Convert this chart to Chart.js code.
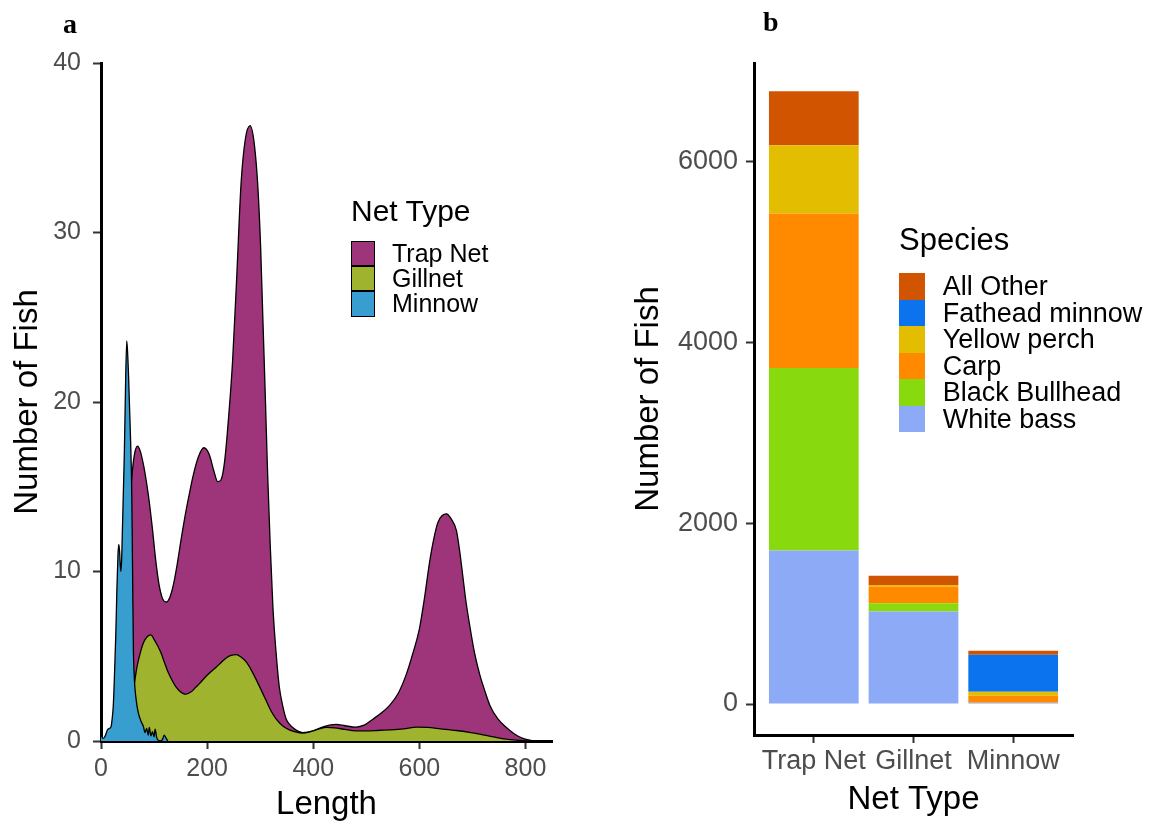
<!DOCTYPE html>
<html>
<head>
<meta charset="utf-8">
<script src="https://cdn.jsdelivr.net/npm/chart.js@4.4.0/dist/chart.umd.min.js"></script>
<style>
  body { margin: 0; background: #fff; font-family: 'Liberation Sans', Arial, sans-serif; }
  #page { position: relative; width: 1152px; height: 835px; overflow: hidden; }
  canvas { position: absolute; top: 0; }
  .tag { position: absolute; font: bold 28px 'Liberation Serif', 'Times New Roman', serif; line-height: 28px; color: #000; }
  .abs { position: absolute; white-space: nowrap; color: #000; }
  .key { position: absolute; box-sizing: border-box; }
</style>
</head>
<body>
<div id="page">
  <canvas id="lengthChart" width="580" height="835" style="left:0;width:580px;height:835px"></canvas>
  <canvas id="netChart" width="572" height="835" style="left:580px;width:572px;height:835px"></canvas>
  <div class="tag" style="left:63px;top:10px">a</div>
  <div class="tag" style="left:763px;top:8px">b</div>
  <div id="netLegend"></div>
  <div id="speciesLegend"></div>
</div>
<script>
// fish counts by length (mm), one curve per net type
const trapLen = [0, 25, 35, 45, 52, 58, 63, 69, 74, 80, 86, 91, 97, 103, 109, 116, 123, 130, 137, 144, 151, 158, 166, 174, 184, 194, 204, 213, 220, 226, 233, 241, 248, 256, 264, 272, 281, 289, 296, 301, 305, 310, 314, 319, 324, 330, 336, 343, 349, 355, 365, 380, 400, 420, 443, 460, 480, 497, 513, 530, 544, 560, 575, 588, 600, 610, 619, 627, 635, 643, 651, 660, 670, 676, 682, 688, 695, 704, 714, 724, 733, 748, 764, 780, 795, 810, 820];
const trapCount = [0, 0.3, 2, 7, 12, 15.5, 16.9, 17.4, 17.1, 16.3, 15.2, 14.1, 12.5, 10.7, 9.3, 8.4, 8.2, 8.5, 9.3, 10.5, 11.9, 13.2, 14.5, 15.7, 16.8, 17.3, 16.9, 15.9, 15.3, 15.4, 16.5, 19.3, 22.4, 27.5, 32.9, 35.5, 36.3, 35.2, 32.5, 29, 25, 20, 15.8, 11.5, 7.9, 5.2, 3.2, 2.0, 1.3, 1.0, 0.7, 0.5, 0.6, 0.85, 0.98, 0.9, 0.82, 0.95, 1.3, 1.7, 2.1, 2.8, 3.9, 5.2, 6.6, 8.5, 10.5, 11.9, 12.9, 13.3, 13.4, 13.1, 12.4, 11.2, 9.7, 8.2, 6.8, 5.2, 3.9, 2.9, 2.1, 1.3, 0.8, 0.4, 0.15, 0.03, 0];

const gillLen = [0, 30, 45, 55, 62, 68, 74, 80, 87, 94, 100, 107, 113, 120, 126, 132, 140, 148, 155, 160, 170, 178, 186, 196, 206, 217, 227, 236, 245, 255, 264, 274, 283, 292, 302, 311, 320, 330, 342, 355, 368, 380, 395, 410, 425, 440, 460, 480, 500, 520, 545, 570, 595, 615, 640, 670, 700, 730, 760, 790, 810];
const gillCount = [0, 0.05, 0.5, 1.8, 3.2, 4.4, 5.2, 5.8, 6.15, 6.26, 6.0, 5.6, 5.2, 4.6, 4.1, 3.7, 3.25, 2.95, 2.8, 2.76, 2.9, 3.15, 3.4, 3.75, 4.05, 4.35, 4.65, 4.9, 5.05, 5.1, 4.95, 4.65, 4.2, 3.65, 3.0, 2.4, 1.8, 1.3, 0.9, 0.66, 0.52, 0.47, 0.55, 0.7, 0.8, 0.78, 0.68, 0.6, 0.6, 0.62, 0.66, 0.72, 0.82, 0.8, 0.72, 0.62, 0.48, 0.3, 0.12, 0.03, 0];

const minnowLen = [0, 4, 8, 12, 16, 19, 21, 23, 25, 28, 30, 32, 33.5, 35, 36.5, 37.7, 39, 40, 42, 44, 46, 48.5, 50, 52, 54, 56, 58, 59.5, 61, 63, 66, 70, 75, 80, 83, 86, 89, 91, 94, 97, 100, 102, 105, 108, 112, 116, 119, 122, 126];
const minnowCount = [0.35, 0.15, 0.3, 0.65, 0.75, 0.85, 1.3, 2.0, 3.5, 6.4, 9, 11.0, 11.6, 11.2, 10.3, 10.0, 10.8, 12, 14.5, 17, 20.5, 23.6, 23, 21.5, 19.5, 17.5, 14.5, 10, 5.5, 3.6, 2.5, 1.7, 1.2, 0.85, 0.5, 0.75, 0.35, 0.8, 0.3, 0.55, 0.25, 0.7, 0.2, 0.05, 0, 0.1, 0.35, 0.2, 0];

const netTypes = ['Trap Net', 'Gillnet', 'Minnow'];
const netColors = ['#9E357B', '#9FB32E', '#389ECF'];

// catch per net type, stacked bottom to top
const speciesNames = ['White bass', 'Black Bullhead', 'Carp', 'Yellow perch', 'Fathead minnow', 'All Other'];
const speciesColors = ['#8CAAF5', '#88DA0E', '#FF8A00', '#E3BD00', '#0B73EE', '#D15500'];
const whiteBass = [1700, 1025, 14];
const blackBullhead = [2018, 89, 0];
const carp = [1711, 188, 78];
const yellowPerch = [756, 15, 45];
const fatheadMinnow = [0, 0, 409];
const allOther = [597, 104, 44];

const lengthTicks = [0, 200, 400, 600, 800];
const curveTicks = [0, 10, 20, 30, 40];
const countTicks = [0, 2000, 4000, 6000];

Chart.defaults.font.family = "'Liberation Sans', Arial, sans-serif";
Chart.defaults.color = '#4D4D4D';

function toPoints(xs, ys) {
  return xs.map((x, i) => ({ x: x, y: ys[i] }));
}

function fixedTicks(values) {
  return scale => { scale.ticks = values.map(v => ({ value: v })); };
}

// shared look for the axes: black axis line, short dark ticks, no grid
function axis(extra) {
  return Object.assign({
    grid: { drawOnChartArea: false, tickLength: 8, tickColor: '#333', tickWidth: 2 },
    border: { color: '#000', width: 3 }
  }, extra);
}

const curveSets = [
  { label: 'Trap Net', data: toPoints(trapLen, trapCount), order: 3 },
  { label: 'Gillnet', data: toPoints(gillLen, gillCount), order: 2 },
  { label: 'Minnow', data: toPoints(minnowLen, minnowCount), order: 1 }
].map((d, i) => Object.assign(d, {
  backgroundColor: netColors[i],
  borderColor: '#000',
  borderWidth: 1.3,
  fill: 'origin',
  pointRadius: 0,
  cubicInterpolationMode: 'monotone'
}));

new Chart(document.getElementById('lengthChart'), {
  type: 'line',
  data: { datasets: curveSets },
  options: {
    responsive: false,
    animation: false,
    layout: { padding: { left: 0, right: 28, top: 63, bottom: 0 } },
    plugins: { legend: { display: false }, tooltip: { enabled: false } },
    scales: {
      x: axis({
        type: 'linear', min: 0, max: 850,
        ticks: { maxRotation: 0, padding: 5, font: { size: 25 }, color: '#4D4D4D' },
        afterBuildTicks: fixedTicks(lengthTicks),
        title: { display: true, text: 'Length', color: '#000', font: { size: 33 }, padding: { top: 0, bottom: 10 } },
        afterFit: s => { s.height = 94; }
      }),
      y: axis({
        type: 'linear', min: 0, max: 40,
        ticks: { padding: 12, font: { size: 25 }, color: '#4D4D4D' },
        afterBuildTicks: fixedTicks(curveTicks),
        title: { display: true, text: 'Number of Fish', color: '#000', font: { size: 33 }, padding: { top: 8, bottom: 0 } },
        afterFit: s => { s.width = 101; }
      })
    }
  }
});

const stacks = [whiteBass, blackBullhead, carp, yellowPerch, fatheadMinnow, allOther];
const barSets = speciesNames.map((name, i) => ({
  label: name,
  data: stacks[i].map((v, j) => ({ x: j + 1, y: v })),
  backgroundColor: speciesColors[i],
  borderWidth: 0,
  barPercentage: 0.9,
  categoryPercentage: 1
}));

new Chart(document.getElementById('netChart'), {
  type: 'bar',
  data: { datasets: barSets },
  options: {
    responsive: false,
    animation: false,
    layout: { padding: { left: 0, right: 79, top: 63, bottom: 0 } },
    plugins: { legend: { display: false }, tooltip: { enabled: false } },
    scales: {
      x: axis({
        type: 'linear', min: 0.4, max: 3.6, stacked: true, offset: false,
        grid: { drawOnChartArea: false, offset: false, tickLength: 8, tickColor: '#333', tickWidth: 2 },
        ticks: { maxRotation: 0, padding: 2, font: { size: 27 }, color: '#4D4D4D',
                 callback: v => netTypes[v - 1] },
        afterBuildTicks: fixedTicks(netTypes.map((n, i) => i + 1)),
        title: { display: true, text: 'Net Type', color: '#000', font: { size: 33 }, padding: { top: 0, bottom: 15 } },
        afterFit: s => { s.height = 100; }
      }),
      y: axis({
        type: 'linear', min: -343, max: 7095, stacked: true,
        ticks: { padding: 8, font: { size: 27 }, color: '#4D4D4D', callback: v => String(v) },
        afterBuildTicks: fixedTicks(countTicks),
        title: { display: true, text: 'Number of Fish', color: '#000', font: { size: 33 }, padding: { top: 49, bottom: 0 } },
        afterFit: s => { s.width = 174; }
      })
    }
  }
});

// legends placed inside the plot panels
function buildLegend(el, opts) {
  let html = `<div class="abs" style="left:${opts.x}px;top:${opts.titleTop}px;font-size:${opts.titleSize}px;line-height:${opts.titleSize}px">${opts.title}</div>`;
  opts.names.forEach((name, i) => {
    const top = opts.rowTop + i * opts.rowH;
    html += `<div class="key" style="left:${opts.x}px;top:${top}px;width:${opts.keyW}px;height:${opts.rowH}px;background:${opts.colors[i]};border:${opts.keyBorder}"></div>`;
    html += `<div class="abs" style="left:${opts.x + opts.textGap}px;top:${top}px;font-size:${opts.textSize}px;line-height:${opts.rowH}px">${name}</div>`;
  });
  el.innerHTML = html;
}

buildLegend(document.getElementById('netLegend'), {
  title: 'Net Type', names: netTypes, colors: netColors,
  x: 351, titleTop: 196, titleSize: 30, rowTop: 240.7, rowH: 25.3,
  keyW: 24, keyBorder: '1.2px solid #000', textGap: 41, textSize: 25
});

buildLegend(document.getElementById('speciesLegend'), {
  title: 'Species', names: speciesNames.slice().reverse(), colors: speciesColors.slice().reverse(),
  x: 899, titleTop: 223.7, titleSize: 31, rowTop: 273.3, rowH: 26.5,
  keyW: 26, keyBorder: 'none', textGap: 43.7, textSize: 27
});
</script>
</body>
</html>
